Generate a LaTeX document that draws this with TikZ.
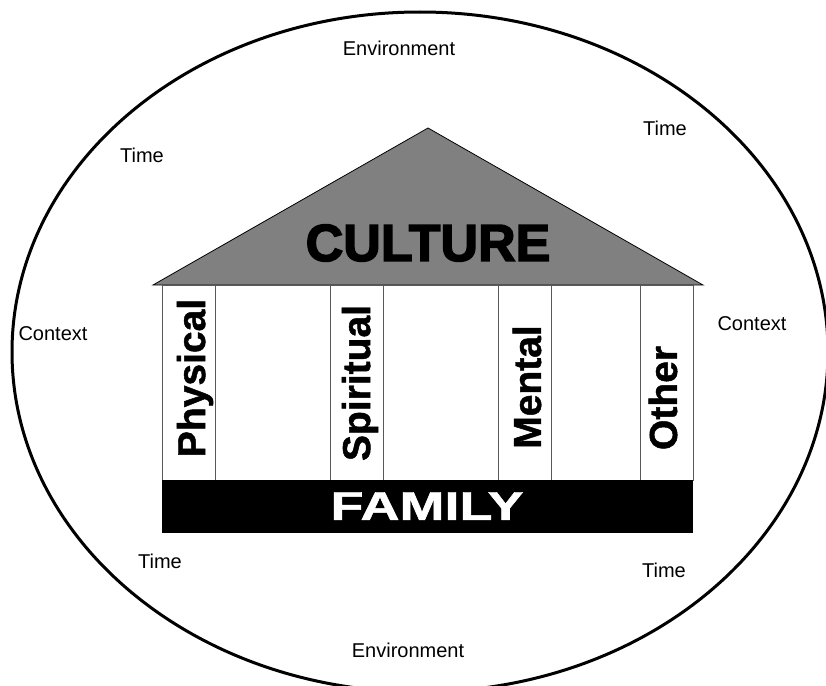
\documentclass[tikz,border=0pt]{standalone}
\usepackage{fontspec}
\setmainfont{Liberation Sans}
\newfontfamily\heavyfont[FakeBold=3]{Liberation Sans Bold}
\newfontfamily\boldfont[FakeBold=1.2]{Liberation Sans Bold}
\usetikzlibrary{positioning}

\tikzset{
  word/.style={font=\fontsize{20}{22}\selectfont, inner sep=0pt},
  pillarlabel/.style={rotate=90, font=\boldfont\fontsize{39}{40}\selectfont, inner sep=0pt},
  pillar/.style={draw=black!65, line width=0.8pt, fill=white},
}

\begin{document}
\begin{tikzpicture}[x=1pt, y=-1pt]
\useasboundingbox (0,0) rectangle (826,685);
\clip (0,0) rectangle (826,685);
% outer ring
\draw[line width=3pt] (420,352) ellipse [x radius=408, y radius=340];
% roof
\draw[fill=black!50, line width=0.8pt] (153,285) -- (428,128) -- (703,285) -- cycle;
\node[font=\heavyfont\fontsize{52}{54}\selectfont, inner sep=0pt] (culture) at (428,243) {CULTURE};
% pillars
\draw[pillar] (162,285) rectangle (693,480);
\foreach \x in {215,330,383,498,551,640}
  \draw[black!65, line width=0.8pt] (\x,285) -- (\x,480);
\node[pillarlabel] (physical) at (195,378) {Physical};
\node[pillarlabel] (spiritual) at (360,383) {Spiritual};
\node[pillarlabel] (mental) at (527,387) {Mental};
\node[pillarlabel] (other) at (663,398) {Other};
% base
\fill[black] (162,480) rectangle (693,533);
\node[text=white, font=\boldfont\fontsize{40}{42}\selectfont, inner sep=0pt] (family) at (427,506) {\scalebox{1.35}[1]{FAMILY}};
% labels round the house
\node[word] (envtop) at (399,48) {Environment};
\node[word] (envbot) at (408,650) {Environment};
\node[word] (timetl) at (142,155) {Time};
\node[word] (timetr) at (665,128) {Time};
\node[word] (timebl) at (160,561) {Time};
\node[word] (timebr) at (664,570) {Time};
\node[word] (ctxl) at (53,334) {Context};
\node[word] (ctxr) at (752,324) {Context};
\end{tikzpicture}
\end{document}
